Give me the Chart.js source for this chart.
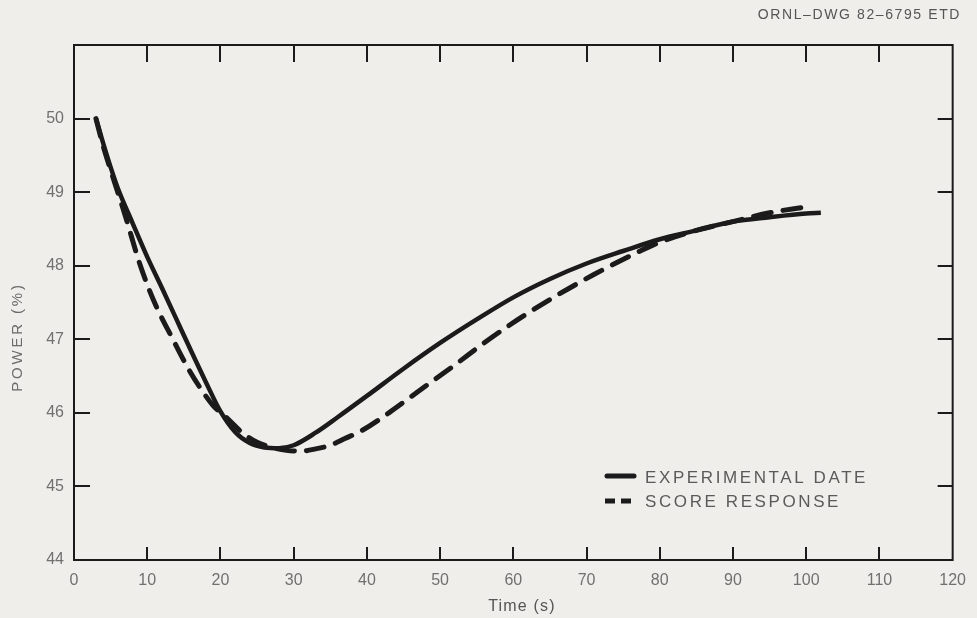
<!DOCTYPE html>
<html>
<head>
<meta charset="utf-8">
<script src="https://cdn.jsdelivr.net/npm/chart.js@4"></script>
<style>
  html, body { margin: 0; padding: 0; background: #efeeea; }
  #wrap { width: 977px; height: 618px; }
</style>
</head>
<body>
<div id="wrap"><canvas id="power-chart"></canvas></div>
<script>
// experimental data (solid)
const expTime = [3, 4, 5, 6, 8, 10, 12, 14, 16, 18, 20, 22, 24, 26, 28, 30, 33, 36, 40, 45, 50, 55, 60, 65, 70, 75, 80, 85, 90, 95, 100, 102];
const expPower = [50.0, 49.66, 49.34, 49.05, 48.58, 48.12, 47.7, 47.27, 46.84, 46.42, 46.02, 45.74, 45.59, 45.53, 45.52, 45.56, 45.73, 45.94, 46.23, 46.6, 46.95, 47.27, 47.57, 47.82, 48.03, 48.2, 48.36, 48.48, 48.6, 48.66, 48.71, 48.72];

// SCORE response (dashed)
const scoreTime = [3, 4, 5, 7, 9, 11, 13.5, 15.5, 17.5, 19, 21, 23, 25, 27, 29, 31, 33, 35, 37, 39.5, 43, 47, 52, 56, 60.5, 65.5, 71, 76.5, 80, 85, 90, 95, 100];
const scorePower = [50.0, 49.62, 49.3, 48.68, 48.02, 47.5, 47.0, 46.62, 46.3, 46.1, 45.92, 45.73, 45.6, 45.53, 45.49, 45.48, 45.51, 45.56, 45.65, 45.77, 46.0, 46.29, 46.65, 46.95, 47.26, 47.57, 47.88, 48.16, 48.32, 48.48, 48.6, 48.72, 48.8];

const xTicks = [0, 10, 20, 30, 40, 50, 60, 70, 80, 90, 100, 110, 120];
const yTicks = [44, 45, 46, 47, 48, 49, 50];
const legendLabels = ["EXPERIMENTAL DATE", "SCORE RESPONSE"];

const ink = "#1b1b1b";
const grayText = "#707070";
const fontFamily = "'Liberation Sans', sans-serif";

function toPoints(xs, ys) {
  return xs.map((x, i) => ({ x: x, y: ys[i] }));
}

// background + frame with inward ticks + legend + titles
const paperPlugin = {
  id: "paper",
  beforeDraw(chart) {
    const ctx = chart.ctx;
    ctx.save();
    ctx.fillStyle = "#efeeea";
    ctx.fillRect(0, 0, chart.width, chart.height);
    ctx.restore();
  },
  afterDraw(chart) {
    const ctx = chart.ctx;
    const a = chart.chartArea;
    const xs = chart.scales.x;
    const ys = chart.scales.y;
    ctx.save();
    ctx.strokeStyle = ink;
    ctx.lineWidth = 2;
    ctx.strokeRect(a.left, a.top, a.right - a.left, a.bottom - a.top);

    ctx.beginPath();
    xTicks.slice(1, -1).forEach(v => {
      const px = Math.round(xs.getPixelForValue(v));
      ctx.moveTo(px, a.bottom);
      ctx.lineTo(px, a.bottom - 13);
      ctx.moveTo(px, a.top);
      ctx.lineTo(px, a.top + 17);
    });
    yTicks.slice(1).forEach(v => {
      const py = Math.round(ys.getPixelForValue(v));
      ctx.moveTo(a.left, py);
      ctx.lineTo(a.left + 16, py);
      ctx.moveTo(a.right, py);
      ctx.lineTo(a.right - 15, py);
    });
    ctx.stroke();

    // legend
    ctx.lineWidth = 5;
    ctx.lineCap = "round";
    ctx.beginPath();
    ctx.moveTo(607, 476);
    ctx.lineTo(634, 476);
    ctx.stroke();
    ctx.setLineDash([10, 6]);
    ctx.lineCap = "butt";
    ctx.beginPath();
    ctx.moveTo(605, 501);
    ctx.lineTo(637, 501);
    ctx.stroke();
    ctx.setLineDash([]);

    ctx.fillStyle = "#5a5a5a";
    ctx.font = "17px " + fontFamily;
    ctx.letterSpacing = "2.6px";
    ctx.textBaseline = "middle";
    ctx.textAlign = "left";
    ctx.fillText(legendLabels[0], 645, 478);
    ctx.fillText(legendLabels[1], 645, 502);

    // drawing number
    ctx.font = "14px " + fontFamily;
    ctx.letterSpacing = "1.6px";
    ctx.fillStyle = "#555";
    ctx.textAlign = "right";
    ctx.fillText("ORNL\u2013DWG 82\u20136795 ETD", 961, 15);

    // axis titles
    ctx.textAlign = "center";
    ctx.font = "16px " + fontFamily;
    ctx.letterSpacing = "1.2px";
    ctx.fillStyle = "#555";
    ctx.fillText("Time (s)", 522, 607);

    ctx.translate(18, 337);
    ctx.rotate(-Math.PI / 2);
    ctx.font = "15px " + fontFamily;
    ctx.letterSpacing = "2.8px";
    ctx.fillStyle = "#6a6a6a";
    ctx.fillText("POWER (%)", 0, 0);
    ctx.restore();
  }
};

new Chart(document.getElementById("power-chart"), {
  type: "line",
  data: {
    datasets: [
      {
        label: legendLabels[0],
        data: toPoints(expTime, expPower),
        borderColor: ink,
        borderWidth: 4.5,
        pointRadius: 0,
        cubicInterpolationMode: "monotone",
        fill: false,
      },
      {
        label: legendLabels[1],
        data: toPoints(scoreTime, scorePower),
        borderColor: ink,
        borderWidth: 5,
        borderDash: [18, 12],
        borderCapStyle: "round",
        pointRadius: 0,
        cubicInterpolationMode: "monotone",
        fill: false,
      },
    ],
  },
  options: {
    responsive: true,
    maintainAspectRatio: false,
    animation: false,
    layout: { padding: { top: 45, right: 22, left: 0, bottom: 0 } },
    plugins: {
      legend: { display: false },
      tooltip: { enabled: false },
    },
    scales: {
      x: {
        type: "linear",
        min: 0,
        max: 120,
        afterFit(s) { s.height = 58; },
        afterBuildTicks(s) { s.ticks = xTicks.map(v => ({ value: v })); },
        grid: { display: false, drawTicks: false },
        border: { display: false },
        ticks: {
          padding: 11,
          color: grayText,
          font: { family: fontFamily, size: 16 },
        },
      },
      y: {
        type: "linear",
        min: 44,
        max: 51,
        afterFit(s) { s.width = 74; },
        afterBuildTicks(s) { s.ticks = yTicks.map(v => ({ value: v })); },
        grid: { display: false, drawTicks: false },
        border: { display: false },
        ticks: {
          padding: 10,
          color: grayText,
          font: { family: fontFamily, size: 16 },
        },
      },
    },
  },
  plugins: [paperPlugin],
});
</script>
</body>
</html>
